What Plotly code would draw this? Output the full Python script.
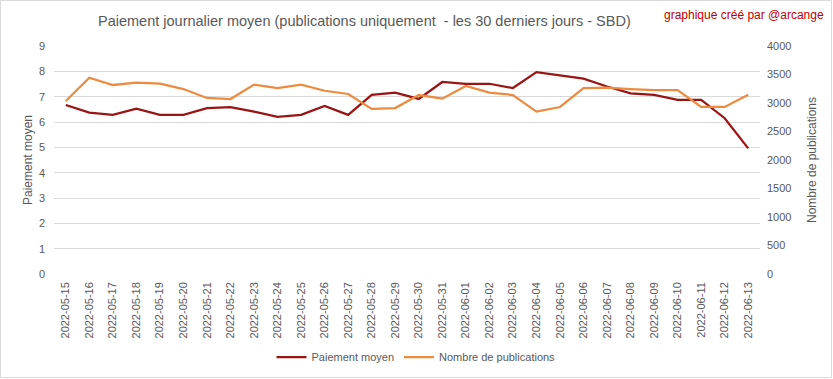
import plotly.graph_objects as go

dates = ["2022-05-15","2022-05-16","2022-05-17","2022-05-18","2022-05-19","2022-05-20",
         "2022-05-21","2022-05-22","2022-05-23","2022-05-24","2022-05-25","2022-05-26",
         "2022-05-27","2022-05-28","2022-05-29","2022-05-30","2022-05-31","2022-06-01",
         "2022-06-02","2022-06-03","2022-06-04","2022-06-05","2022-06-06","2022-06-07",
         "2022-06-08","2022-06-09","2022-06-10","2022-06-11","2022-06-12","2022-06-13"]

paiement_moyen = [6.67, 6.37, 6.28, 6.53, 6.28, 6.28, 6.55, 6.59, 6.41, 6.20,
                  6.28, 6.63, 6.28, 7.07, 7.16, 6.91, 7.58, 7.51, 7.51, 7.34,
                  7.97, 7.83, 7.71, 7.40, 7.13, 7.07, 6.87, 6.87, 6.15, 4.96]

nombre_publications = [3035, 3444, 3316, 3357, 3339, 3245, 3088, 3070, 3322, 3263,
                       3322, 3215, 3158, 2895, 2912, 3140, 3076, 3298, 3181, 3140,
                       2848, 2930, 3260, 3269, 3245, 3228, 3228, 2930, 2930, 3146]

RED = "#9B1414"
ORANGE = "#ED8A3F"
GRAY = "#595959"
FONT = "Liberation Sans, Arial, sans-serif"

fig = go.Figure()
fig.add_trace(go.Scatter(x=dates, y=paiement_moyen, name="Paiement moyen",
                         mode="lines", line=dict(color=RED, width=2.25), yaxis="y"))
fig.add_trace(go.Scatter(x=dates, y=nombre_publications, name="Nombre de publications",
                         mode="lines", line=dict(color=ORANGE, width=2.25), yaxis="y2"))

W, H = 833, 379
L, R, T, B = 54, 73, 46, 105
pw, ph = W - L - R, H - T - B

def px_x(x):
    return (x - L) / pw

def px_y(y):
    return (H - B - y) / ph

fig.update_layout(
    width=W, height=H,
    margin=dict(l=L, r=R, t=T, b=B, pad=0),
    paper_bgcolor="white", plot_bgcolor="white",
    font=dict(family=FONT, color=GRAY, size=11),
    showlegend=True,
    legend=dict(orientation="h", x=px_x(416), xanchor="center",
                yref="container", y=1 - 357 / H, yanchor="middle",
                font=dict(size=11, color=GRAY), itemwidth=30, tracegroupgap=0),
    xaxis=dict(type="category", range=[-0.5, len(dates) - 0.5], tickangle=-90,
               showgrid=False, showline=False, ticks="", tickfont=dict(size=11, color=GRAY),
               ticklabelstandoff=5, zeroline=False, automargin=False),
    yaxis=dict(range=[0, 9], dtick=1, showgrid=True, gridcolor="#D9D9D9", gridwidth=1,
               zeroline=False, showline=False, ticks="", tickfont=dict(size=11, color=GRAY),
               ticklabelstandoff=8,
               title=dict(text="Paiement moyen", font=dict(size=12, color=GRAY), standoff=3),
               automargin=False),
    yaxis2=dict(range=[0, 4000], dtick=500, overlaying="y", side="right", showgrid=False,
                zeroline=False, showline=False, ticks="", tickfont=dict(size=11, color=GRAY),
                ticklabelstandoff=6,
                title=dict(text="Nombre de publications", font=dict(size=12, color=GRAY), standoff=17),
                automargin=False),
    annotations=[
        dict(text="Paiement journalier moyen (publications uniquement  - les 30 derniers jours - SBD)",
             xref="paper", yref="paper", x=px_x(364), y=px_y(21), xanchor="center", yanchor="middle",
             showarrow=False, font=dict(size=14.5, color=GRAY, family=FONT)),
        dict(text="graphique créé par @arcange",
             xref="paper", yref="paper", x=px_x(826), y=px_y(15), xanchor="right", yanchor="middle",
             showarrow=False, font=dict(size=12, color="#C00000", family=FONT)),
    ],
    shapes=[dict(type="rect", xref="paper", yref="paper",
                 x0=px_x(0.5), x1=px_x(W - 1.5), y0=px_y(H - 1.5), y1=px_y(0.5),
                 line=dict(color="#D9D9D9", width=1), fillcolor="rgba(0,0,0,0)", layer="below")],
)

fig.write_html("out.html", config={"displayModeBar": False},
               post_script="document.body.style.margin='0';document.body.style.overflow='hidden';")
